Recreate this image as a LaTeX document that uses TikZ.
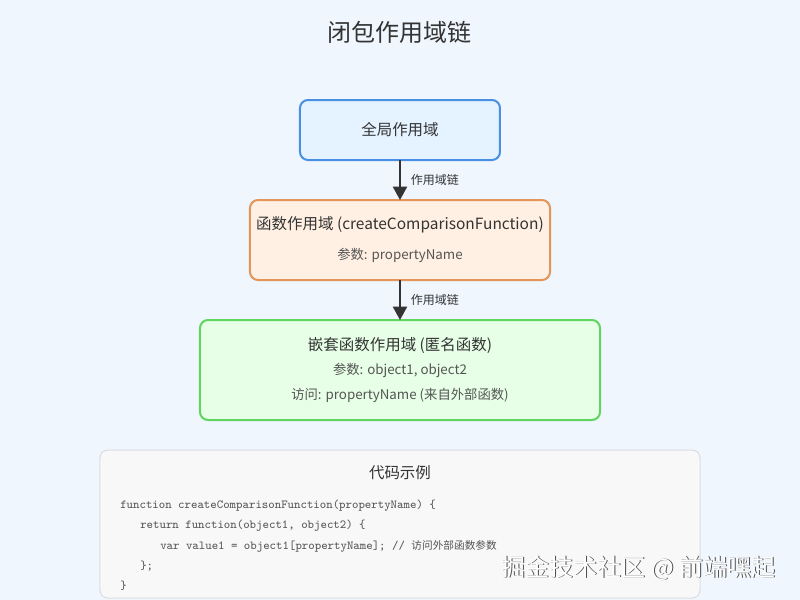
\documentclass[tikz,border=0pt]{standalone}
\usepackage{fontspec}
\setmainfont{Noto Sans CJK SC}
\newfontfamily\cjkfont{Noto Sans CJK SC}
\usetikzlibrary{positioning, arrows.meta}
\definecolor{bgcol}{RGB}{240, 246, 253}
\definecolor{globalfill}{RGB}{229, 242, 255}
\definecolor{globalline}{RGB}{74, 144, 226}
\definecolor{funcfill}{RGB}{255, 240, 227}
\definecolor{funcline}{RGB}{228, 150, 90}
\definecolor{nestfill}{RGB}{230, 255, 230}
\definecolor{nestline}{RGB}{96, 214, 96}
\definecolor{codefill}{RGB}{248, 248, 248}
\definecolor{codeline}{RGB}{218, 220, 224}
\definecolor{txt}{RGB}{51, 51, 51}
\definecolor{subtxt}{RGB}{85, 85, 85}

\begin{document}
\begin{tikzpicture}[
    scopebox/.style 2 args={
        draw=#2,
        fill=#1,
        line width=1.5pt,
        rounded corners=6pt,
        inner sep=0pt,
        outer sep=0pt
    },
    boxtitle/.style={font=\fontsize{11.6}{14}\selectfont, text=txt},
    boxline/.style={font=\fontsize{10}{12}\selectfont, text=subtxt},
    chainlbl/.style={font=\fontsize{9}{11}\selectfont, text=txt, right, xshift=4pt},
    codetxt/.style={font=\ttfamily\fontsize{9.2}{11}\selectfont, text=subtxt, anchor=west, inner sep=0pt},
    chain/.style={-{Triangle[length=10pt, width=10.5pt]}, line width=1.5pt, txt}
]

% === background ===
\fill[bgcol] (-300pt, 97.5pt) rectangle (300pt, -352.5pt);
\useasboundingbox (-300pt, 97.5pt) rectangle (300pt, -352.5pt);

% === title ===
\node[font=\fontsize{18}{21}\selectfont, text=txt] (title) at (0, 73.5pt) {闭包作用域链};

% === global scope ===
\node[scopebox={globalfill}{globalline}, minimum width=150pt, minimum height=45pt] (global) at (0, 0) {};
\node[boxtitle] (globalT) at (global.center) {全局作用域};

% === function scope ===
\node[scopebox={funcfill}{funcline}, minimum width=225pt, minimum height=60pt, below=30pt of global] (func) {};
\node[boxtitle] (funcT) at ([yshift=-18.75pt]func.north) {函数作用域 (createComparisonFunction)};
\node[boxline] (funcP) at ([yshift=-41.25pt]func.north) {参数: propertyName};

% === nested scope ===
\node[scopebox={nestfill}{nestline}, minimum width=300pt, minimum height=75pt, below=30pt of func] (nest) {};
\node[boxtitle] (nestT) at ([yshift=-18.75pt]nest.north) {嵌套函数作用域 (匿名函数)};
\node[boxline] (nestP) at ([yshift=-37.5pt]nest.north) {参数: object1, object2};
\node[boxline] (nestA) at ([yshift=-56.25pt]nest.north) {访问: propertyName (来自外部函数)};

% === code example ===
\node[scopebox={codefill}{codeline}, line width=0.75pt, minimum width=450pt, minimum height=111pt, below=22.5pt of nest] (code) {};
\node[boxtitle] (codeT) at ([yshift=-17.25pt]code.north) {代码示例};
\node[codetxt] (c1) at ([xshift=15pt, yshift=-42pt]code.north west) {function createComparisonFunction(propertyName) \{};
\node[codetxt] (c2) at ([xshift=30pt, yshift=-57pt]code.north west) {return function(object1, object2) \{};
\node[codetxt] (c3) at ([xshift=45pt, yshift=-72pt]code.north west) {var value1 = object1[propertyName]; // {\cjkfont\fontsize{8}{10}\selectfont 访问外部函数参数}};
\node[codetxt] (c4) at ([xshift=30pt, yshift=-87pt]code.north west) {\};};
\node[codetxt] (c5) at ([xshift=15pt, yshift=-102pt]code.north west) {\}};

% === arrows ===
\draw[chain] (global.south) -- (func.north) node[chainlbl, midway] {作用域链};
\draw[chain] (func.south) -- (nest.north) node[chainlbl, midway] {作用域链};

% === watermark ===
\node[font=\fontsize{18}{21}\selectfont, text=black!70, anchor=east] (markS) at (285.6pt, -329.1pt) {掘金技术社区 @ 前端嘿起};
\node[font=\fontsize{18}{21}\selectfont, text=white, anchor=east] (mark) at (285pt, -328.5pt) {掘金技术社区 @ 前端嘿起};

\end{tikzpicture}
\end{document}
